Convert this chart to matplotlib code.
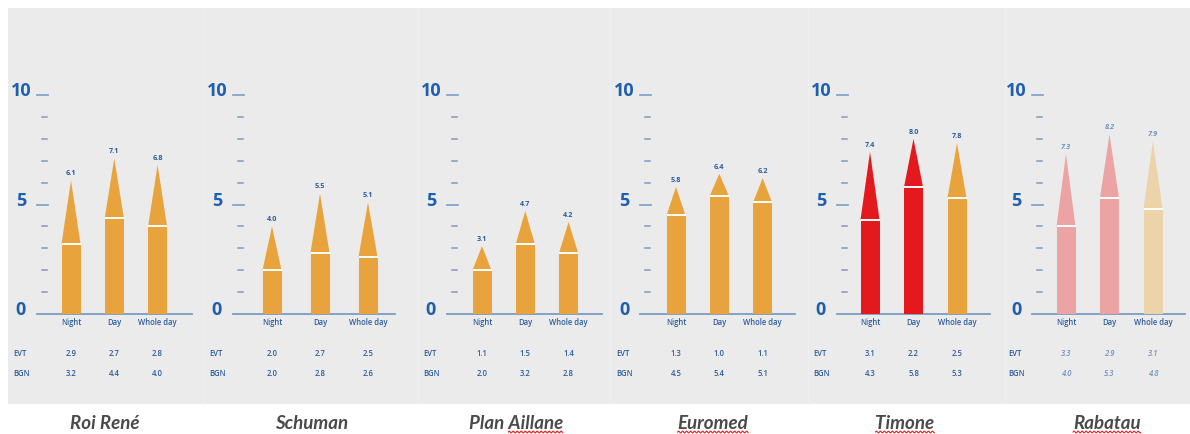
import numpy as np
import matplotlib
matplotlib.use("Agg")
import matplotlib.pyplot as plt
from matplotlib.patches import Polygon, Rectangle
from matplotlib.lines import Line2D
from matplotlib.transforms import blended_transform_factory

# ---- data -------------------------------------------------------------
sites = ["Roi René", "Schuman", "Plan Aillane", "Euromed", "Timone", "Rabatau"]
periods = ["Night", "Day", "Whole day"]
evt = [[2.9, 2.7, 2.8], [2.0, 2.7, 2.5], [1.1, 1.5, 1.4],
       [1.3, 1.0, 1.1], [3.1, 2.2, 2.5], [3.3, 2.9, 3.1]]
bgn = [[3.2, 4.4, 4.0], [2.0, 2.8, 2.6], [2.0, 3.2, 2.8],
       [4.5, 5.4, 5.1], [4.3, 5.8, 5.3], [4.0, 5.3, 4.8]]
totals = [[6.1, 7.1, 6.8], [4.0, 5.5, 5.1], [3.1, 4.7, 4.2],
          [5.8, 6.4, 6.2], [7.4, 8.0, 7.8], [7.3, 8.2, 7.9]]
y_ticks = [0, 5, 10]

# ---- styling ----------------------------------------------------------
ORANGE, RED, PINK, BEIGE = "#E8A33C", "#E3191E", "#EBA3A3", "#EDD3A9"
bar_colors = [[ORANGE] * 3, [ORANGE] * 3, [ORANGE] * 3, [ORANGE] * 3,
              [RED, RED, ORANGE], [PINK, PINK, BEIGE]]
faded = [False, False, False, False, False, True]
# word flagged by the spell checker in each title
flagged = ["", "", "Aillane", "Euromed", "Timone", "Rabatau"]

BLUE = "#1F5FAF"
TEXT_BLUE = "#2B5C9E"
LIGHT_BLUE = "#6F93C4"
AXIS_BLUE = "#7B9CC6"

W, H = 1190, 435
fig = plt.figure(figsize=(W / 100, H / 100), dpi=100)
fig.patch.set_facecolor("white")


def fx(px):
    return px / W


def fy(py):
    return 1 - py / H


# grey panel background
fig.add_artist(Rectangle((fx(8), fy(405)), fx(W - 8), (405 - 9) / H,
                         transform=fig.transFigure, facecolor="#EBEBEB",
                         edgecolor="none", zorder=0))
for sx in [203, 418, 610, 808, 1005]:
    fig.add_artist(Line2D([fx(sx), fx(sx)], [fy(405), fy(9)],
                          transform=fig.transFigure, color="#EFEFEF",
                          lw=0.8, zorder=0.5))

# panel geometry in pixels: baseline start/end, first bar centre, spacing, title centre
layout = [(37, 192, 71, 43.3, 105),
          (233, 395, 272, 48, 312),
          (447, 602, 482, 43.3, 516),
          (640, 795, 676, 43.3, 713),
          (837, 990, 870, 43.5, 905),
          (1032, 1185, 1066, 43.5, 1107)]

Y0, Y10 = 315, 96
bar_px = 19

titles = []
for i, (x0, x1, c0, sp, tc) in enumerate(layout):
    ax = fig.add_axes([fx(x0), fy(Y0), (x1 - x0) / W, (Y0 - Y10) / H])
    ax.set_xlim((x0 - c0) / sp, (x1 - c0) / sp)
    ax.set_ylim(0, 10)
    ax.axis("off")
    ax.patch.set_alpha(0)
    span = x1 - x0

    # axis scale: baseline, ticks and labels
    ax.axhline(0, 0, 1, color=AXIS_BLUE, lw=1.3, clip_on=False)
    for v in range(1, 11):
        if v in y_ticks:
            ax.axhline(v, 0, 11 / span, color=AXIS_BLUE, lw=1.2, clip_on=False)
        else:
            ax.axhline(v, 5 / span, 10 / span, color=AXIS_BLUE, lw=1.1,
                       clip_on=False)
    lab_tr = blended_transform_factory(fig.transFigure, ax.transData)
    for v in y_ticks:
        ax.text(fx(x0 - 16), v, str(v), transform=lab_tr, ha="center",
                va="baseline", fontsize=13, fontweight="bold", color=BLUE,
                family="Open Sans", clip_on=False)

    w = bar_px / sp
    style = "italic" if faded[i] else "normal"
    val_color = LIGHT_BLUE if faded[i] else TEXT_BLUE
    for j in range(3):
        col = bar_colors[i][j]
        b = bgn[i][j]
        t = totals[i][j]
        ax.bar(j, b, width=w, color=col, edgecolor="none", zorder=2)
        ax.add_patch(Polygon([[j - w / 2, b], [j + w / 2, b], [j, t]],
                             closed=True, facecolor=col, edgecolor="none",
                             zorder=2))
        ax.plot([j - w / 2, j + w / 2], [b, b], color="white", lw=1.4,
                solid_capstyle="butt", zorder=3)
        ax.annotate(f"{t:.1f}", (j, t), xytext=(0, 3), textcoords="offset points",
                    ha="center", va="bottom", fontsize=5.2, color=val_color,
                    fontstyle=style, family="Open Sans", fontweight="bold")

    # table of components
    row_tr = blended_transform_factory(ax.transData, fig.transFigure)
    cat_y, evt_y, bgn_y = fy(323), fy(353), fy(374)
    for j, p in enumerate(periods):
        ax.text(j, cat_y, p, transform=row_tr, ha="center", va="center",
                fontsize=5.5, color=TEXT_BLUE, family="Open Sans",
                fontweight="semibold", clip_on=False)
        ax.text(j, evt_y, f"{evt[i][j]:.1f}", transform=row_tr, ha="center",
                va="center", fontsize=5.5, color=val_color, fontstyle=style,
                family="Open Sans", fontweight="semibold", clip_on=False)
        ax.text(j, bgn_y, f"{bgn[i][j]:.1f}", transform=row_tr, ha="center",
                va="center", fontsize=5.5, color=val_color, fontstyle=style,
                family="Open Sans", fontweight="semibold", clip_on=False)
    for lab, yy in [("EVT", evt_y), ("BGN", bgn_y)]:
        fig.text(fx(x0 - 24), yy, lab, ha="left", va="center", fontsize=5.5,
                 color=TEXT_BLUE, family="Open Sans", fontweight="semibold")

    t = fig.text(fx(tc), fy(424), sites[i], ha="center", va="center",
                 fontsize=13.5, fontweight="bold", fontstyle="italic",
                 color="#4A4A4A", family="Lato")
    titles.append(t)

# wavy spell-check underline below the flagged words
fig.canvas.draw()
renderer = fig.canvas.get_renderer()
inv = fig.transFigure.inverted()
for t, word in zip(titles, flagged):
    if not word:
        continue
    bb = t.get_window_extent(renderer)
    tmp = fig.text(0, 0, word, fontsize=13.5, fontweight="bold",
                   fontstyle="italic", family="Lato")
    wb = tmp.get_window_extent(renderer)
    tmp.remove()
    xa, xb = bb.x1 - wb.width, bb.x1
    yb = bb.y0 - 0.5
    xs = np.arange(xa, xb, 0.5)
    ys = yb + 0.9 * np.sin((xs - xa) * 2 * np.pi / 4.0)
    pts = inv.transform(np.column_stack([xs, ys]))
    fig.add_artist(Line2D(pts[:, 0], pts[:, 1], transform=fig.transFigure,
                          color="#E02424", lw=0.8))

fig.savefig("out.png", dpi=100, facecolor=fig.get_facecolor())
